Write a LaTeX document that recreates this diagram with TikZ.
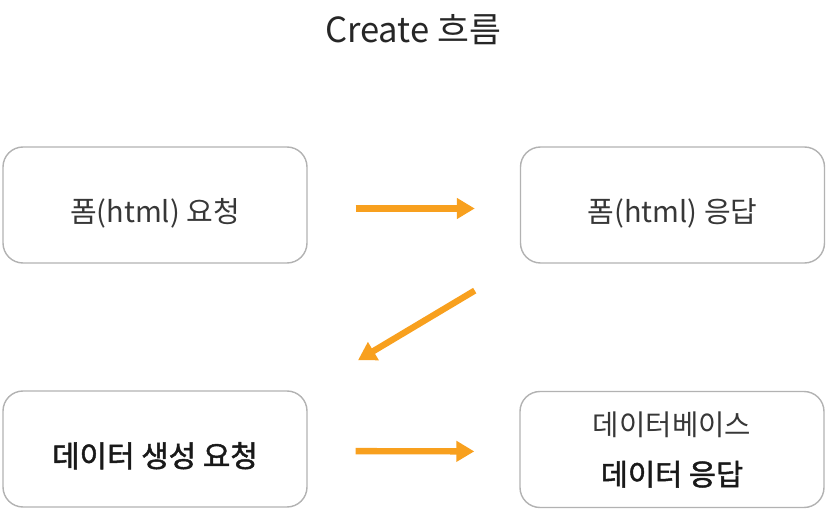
\documentclass[tikz,border=0pt]{standalone}
\usepackage{fontspec}
\setmainfont{Noto Sans CJK KR}[BoldFont={Noto Sans CJK KR},BoldFeatures={FakeBold=1.6}]
\usepackage{tikz}
\usetikzlibrary{arrows.meta}
\definecolor{boxgray}{RGB}{178,178,178}
\definecolor{arroworange}{RGB}{248,160,30}
\definecolor{textgray}{RGB}{55,55,55}

\begin{document}
\begin{tikzpicture}[
		box/.style={draw=boxgray,line width=0.8pt,rounded corners=0.4cm,minimum width=6.08cm,minimum height=2.32cm,text=textgray,font=\fontsize{16.5}{19}\selectfont},
		textbox/.style={box,text height=0.88cm,text depth=0.16cm},
		flow/.style={draw=arroworange,line width=3.6pt,-{Triangle[length=0.36cm,width=0.4cm]}}
	]
			\useasboundingbox (0,0) rectangle (16.7,10.44);
			\node[text=black!85] (title)at(8.26,9.84) {\fontsize{19.7}{23}\selectfont Create 흐름};
			
			\node[textbox] (1)at(3.10,6.34) {폼(html) 요청};
			\node[textbox] (2)at(13.45,6.34) {폼(html) 응답};
			\node[textbox,text=black!90,font=\fontsize{17}{19}\selectfont\bfseries] (3)at(3.10,1.46) {데이터 생성 요청};
			\node[box,align=center,font=\fontsize{16.3}{28.5}\selectfont] (4)at(13.44,1.45) {데이터베이스\\{\fontsize{16.8}{28.5}\selectfont\bfseries\color{black!90}데이터 응답}};
			
			\draw[flow,shorten <=0.96cm,shorten >=0.9cm] ([yshift=-0.07cm]1.east) -- ([yshift=-0.07cm]2.west);
			\draw[flow,shorten <=1.05cm,shorten >=1.17cm] (2.south west) -- (3.north east);
			\draw[flow,shorten <=0.96cm,shorten >=0.9cm] ([yshift=-0.04cm]3.east) -- ([yshift=-0.04cm]4.west);
		\end{tikzpicture}
\end{document}
